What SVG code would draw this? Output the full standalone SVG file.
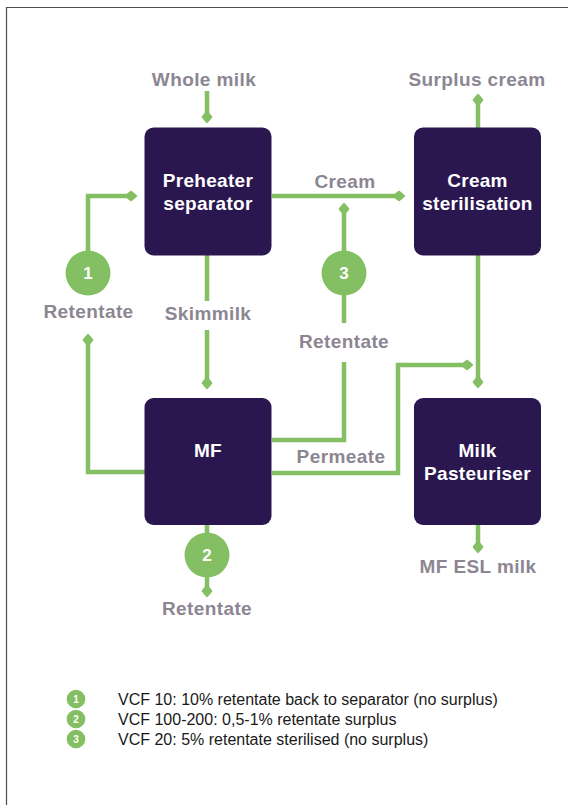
<svg xmlns="http://www.w3.org/2000/svg" width="568" height="805" viewBox="0 0 568 805">
<style>
.box{fill:#2a1750}
.bt{font-family:"Liberation Sans",Arial,sans-serif;font-weight:bold;font-size:19px;letter-spacing:0.3px;fill:#ffffff;text-anchor:middle}
.lbl{font-family:"Liberation Sans",Arial,sans-serif;font-weight:bold;font-size:19px;letter-spacing:0.4px;fill:#8c8693;text-anchor:middle}
.con{fill:none;stroke:#85bf63;stroke-width:4.5;stroke-linejoin:miter;stroke-linecap:butt}
.arr{marker-end:url(#dia)}
.num{fill:#85bf63}
.nt{font-family:"Liberation Sans",Arial,sans-serif;font-weight:bold;font-size:17px;fill:#ffffff;text-anchor:middle}
.lt{font-family:"Liberation Sans",Arial,sans-serif;font-size:16px;fill:#1a1a1a}
.lnt{font-family:"Liberation Sans",Arial,sans-serif;font-weight:bold;font-size:10px;fill:#ffffff;text-anchor:middle}
</style>
<defs>
<marker id="dia" markerUnits="userSpaceOnUse" viewBox="-8 -7 16 14" markerWidth="16" markerHeight="14" refX="0" refY="0" orient="auto">
<path d="M-6.5,0 Q-3,-3.5 0,-5.5 Q3,-3.5 6.5,0 Q3,3.5 0,5.5 Q-3,3.5 -6.5,0 Z" fill="#85bf63"/>
</marker>
</defs>
<rect width="568" height="805" fill="#ffffff"/>
<path d="M568,7.5 H6.5 V805" fill="none" stroke="#4d4d4d" stroke-width="1.2"/>

<g id="connectors">
<path class="con arr" d="M207,91 V117"/>
<path class="con" d="M207,255 V301"/>
<path class="con arr" d="M207,330 V383"/>
<path class="con arr" d="M272,196 H399"/>
<path class="con arr" d="M478,128 V100"/>
<path class="con arr" d="M478,255 V382"/>
<path class="con arr" d="M478,525 V547"/>
<path class="con arr" d="M207,525 V591"/>
<path class="con arr" d="M145,472 H88 V340"/>
<path class="con arr" d="M88,252 V196 H131"/>
<path class="con" d="M272,440 H344 V362"/>
<path class="con arr" d="M344,323 V209"/>
<path class="con arr" d="M272,473 H398 V365 H467"/>
</g>

<g id="preheater">
<rect class="box" x="144.5" y="127.5" width="127" height="128" rx="9"/>
<text class="bt" x="208" y="187">Preheater</text>
<text class="bt" x="208" y="210">separator</text>
</g>
<g id="cream-sterilisation">
<rect class="box" x="414" y="127.5" width="127" height="128" rx="9"/>
<text class="bt" x="477.5" y="187">Cream</text>
<text class="bt" x="477.5" y="210">sterilisation</text>
</g>
<g id="mf">
<rect class="box" x="144.5" y="398" width="127" height="127" rx="9"/>
<text class="bt" x="208" y="457">MF</text>
</g>
<g id="milk-pasteuriser">
<rect class="box" x="414" y="398" width="127" height="127" rx="9"/>
<text class="bt" x="477.5" y="457">Milk</text>
<text class="bt" x="477.5" y="480">Pasteuriser</text>
</g>

<g id="labels">
<text class="lbl" x="204" y="86">Whole milk</text>
<text class="lbl" x="477" y="86">Surplus cream</text>
<text class="lbl" x="345" y="188">Cream</text>
<text class="lbl" x="208" y="320">Skimmilk</text>
<text class="lbl" x="88.5" y="318">Retentate</text>
<text class="lbl" x="344" y="348">Retentate</text>
<text class="lbl" x="341" y="463">Permeate</text>
<text class="lbl" x="478" y="573">MF ESL milk</text>
<text class="lbl" x="207" y="615">Retentate</text>
</g>

<g id="circle-1">
<circle class="num" cx="88" cy="273" r="22.5"/>
<text class="nt" x="88" y="279">1</text>
</g>
<g id="circle-3">
<circle class="num" cx="344" cy="273" r="22.5"/>
<text class="nt" x="344" y="279">3</text>
</g>
<g id="circle-2">
<circle class="num" cx="207" cy="555" r="22.5"/>
<text class="nt" x="207" y="561">2</text>
</g>

<g id="legend">
<circle class="num" cx="76" cy="699" r="9.3"/>
<text class="lnt" x="76" y="702.5">1</text>
<text class="lt" x="118" y="705">VCF 10: 10% retentate back to separator (no surplus)</text>
<circle class="num" cx="76" cy="719" r="9.3"/>
<text class="lnt" x="76" y="722.5">2</text>
<text class="lt" x="118" y="725">VCF 100-200: 0,5-1% retentate surplus</text>
<circle class="num" cx="76" cy="739" r="9.3"/>
<text class="lnt" x="76" y="742.5">3</text>
<text class="lt" x="118" y="745">VCF 20: 5% retentate sterilised (no surplus)</text>
</g>
</svg>
